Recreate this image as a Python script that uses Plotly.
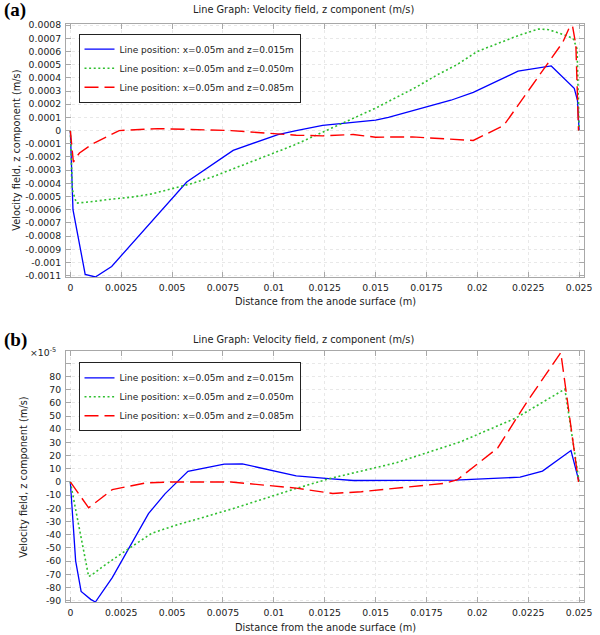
import plotly.graph_objects as go

# ---------------- data ----------------
series_names = [
    "Line position: x=0.05m and z=0.015m",
    "Line position: x=0.05m and z=0.050m",
    "Line position: x=0.05m and z=0.085m",
]

# Panel (a): velocity in m/s
a_blue_x = [0, 0.00013, 0.00073, 0.00123, 0.00203, 0.00572, 0.0080, 0.0102, 0.0111, 0.0124,
            0.0150, 0.01563, 0.0187, 0.0198, 0.0220, 0.02363, 0.02476, 0.02492, 0.0250]
a_blue_y = [0, -0.0006, -0.00109, -0.00111, -0.00103, -0.00039, -0.00015, -0.00003, 0.0, 0.00004,
            0.00008, 0.0001, 0.00023, 0.00029, 0.00045, 0.00049, 0.00032, 0.00023, 0.0]

a_green_x = [0, 0.0001, 0.0003, 0.001, 0.002, 0.003, 0.004, 0.005, 0.006, 0.007, 0.008, 0.009,
             0.010, 0.011, 0.012, 0.013, 0.014, 0.015, 0.016, 0.017, 0.018, 0.019, 0.020, 0.021,
             0.022, 0.023, 0.0235, 0.024, 0.0247, 0.0249, 0.025]
a_green_y = [0, -0.00045, -0.00055, -0.00054, -0.00052, -0.000505, -0.00048, -0.00044, -0.0004,
             -0.00035, -0.00029, -0.00023, -0.00017, -0.00011, -0.00004, 0.00003, 0.0001, 0.00017,
             0.00025, 0.00033, 0.00042, 0.0005, 0.0006, 0.00066, 0.00072, 0.00077, 0.000765,
             0.00074, 0.0007, 0.00062, 0]

a_red_x = [0, 0.00015, 0.0003, 0.00045, 0.0011, 0.0024, 0.0043, 0.0079, 0.0111, 0.0124, 0.0139,
           0.0150, 0.0168, 0.0198, 0.0213, 0.0242, 0.02456, 0.02468, 0.02484, 0.02497]
a_red_y = [0, -0.00024, -0.0002, -0.00017, -0.0001, 0.0, 0.000015, 0.0, -0.000035, -0.00004,
           -0.00003, -0.00005, -0.000048, -0.000075, 0.00004, 0.00067, 0.000795, 0.00079,
           0.00065, 0]

# Panel (b): velocity in units of 1e-5 m/s
b_blue_x = [0, 0.00026, 0.00053, 0.00100, 0.00123, 0.00206, 0.00384, 0.00465, 0.00578, 0.00675,
            0.00756, 0.00845, 0.0111, 0.0127, 0.0139, 0.0189, 0.0221, 0.0232, 0.0246, 0.025]
b_blue_y = [0, -59.8, -83, -89, -91, -72.5, -24, -9, 8, 10.7, 13.5, 13.7, 4.6, 2.6, 1.1, 1.4,
            3.6, 8.2, 23.8, 0]

b_green_x = [0, 0.00045, 0.0009, 0.0011, 0.00158, 0.00271, 0.0040, 0.00514, 0.00675, 0.00788,
             0.0111, 0.0127, 0.0160, 0.0192, 0.0198, 0.0219, 0.0243, 0.0247, 0.025]
b_green_y = [0, -37, -71.7, -70, -64.3, -52.2, -38.9, -33, -25.8, -20.8, -4.9, 2.4, 14.5, 30.6,
             34.6, 48.5, 70.4, 32, 0]

b_red_x = [0, 0.0009, 0.00206, 0.00368, 0.0050, 0.0079, 0.0111, 0.0129, 0.0143, 0.0184, 0.0190,
           0.0198, 0.0210, 0.0224, 0.0241, 0.02497]
b_red_y = [0, -19.6, -5.8, -0.8, 0, 0, -4.7, -8.7, -7.4, -1, 1.5, 11.2, 25.8, 59.8, 98, 0]

x_tick_labels = ["0", "0.0025", "0.005", "0.0075", "0.01", "0.0125", "0.015", "0.0175",
                 "0.02", "0.0225", "0.025"]
a_ytick_labels = ["-0.0011", "-0.001", "-0.0009", "-0.0008", "-0.0007", "-0.0006", "-0.0005",
                  "-0.0004", "-0.0003", "-0.0002", "-0.0001", "0", "0.0001", "0.0002",
                  "0.0003", "0.0004", "0.0005", "0.0006", "0.0007", "0.0008"]
b_ytick_vals = [-90, -80, -70, -60, -50, -40, -30, -20, -10, 0, 10, 20, 30, 40, 50, 60, 70, 80, 90]
b_ytick_labels = ["-90", "-80", "-70", "-60", "-50", "-40", "-30", "-20", "-10", "0", "10",
                  "20", "30", "40", "50", "60", "70", "80", " "]

title_text = "Line Graph: Velocity field, z component (m/s)"
x_title = "Distance from the anode surface (m)"
y_title = "Velocity field, z component (m/s)"

# ---------------- layout helpers ----------------
W, H = 600, 635
ML, MR, MT, MB = 66, 8, 24, 33
PW, PH = W - ML - MR, H - MT - MB


def fx(px):
    return (px - ML) / PW


def fy(py):
    return (H - MB - py) / PH


FONT = "DejaVu Sans"
colors = ["#0000ff", "#2fbf2f", "#ff0000"]
dashes = ["solid", "2px,2.6px", "14px,6px"]
widths = [1.3, 1.6, 1.4]

fig = go.Figure()

a_sets = [(a_blue_x, a_blue_y), (a_green_x, a_green_y), (a_red_x, a_red_y)]
b_sets = [(b_blue_x, b_blue_y), (b_green_x, b_green_y), (b_red_x, b_red_y)]

for i, (xs, ys) in enumerate(a_sets):
    fig.add_trace(go.Scatter(x=xs, y=ys, mode="lines", name=series_names[i],
                             line=dict(color=colors[i], dash=dashes[i], width=widths[i]),
                             xaxis="x", yaxis="y", legend="legend"))
for i, (xs, ys) in enumerate(b_sets):
    fig.add_trace(go.Scatter(x=xs, y=ys, mode="lines", name=series_names[i],
                             line=dict(color=colors[i], dash=dashes[i], width=widths[i]),
                             xaxis="x2", yaxis="y2", legend="legend2"))

x_tick_vals = [float(t) for t in x_tick_labels]
a_ytick_vals = [float(t) for t in a_ytick_labels]

axis_common = dict(
    showline=True, linecolor="#a8a8a8", linewidth=1, mirror="ticks",
    ticks="inside", ticklen=5, tickcolor="#a8a8a8",
    showgrid=True, gridcolor="#e8e8e8", griddash="dot", gridwidth=1,
    zeroline=False, tickfont=dict(family=FONT, size=9.3, color="#222"),
    ticklabelstandoff=2, ticklabeloverflow="allow",
)

xr = [-0.000213, 0.02524]

fig.update_layout(
    width=W, height=H,
    margin=dict(l=ML, r=MR, t=MT, b=MB),
    paper_bgcolor="white", plot_bgcolor="white",
    font=dict(family=FONT, size=10, color="#222"),
    xaxis=dict(domain=[0, 1], anchor="y", range=xr, tickmode="array",
               tickvals=x_tick_vals, ticktext=x_tick_labels, **axis_common),
    yaxis=dict(domain=[fy(277), 1], anchor="x", range=[-0.00111, 0.000808], tickmode="array",
               tickvals=a_ytick_vals, ticktext=a_ytick_labels, **axis_common),
    xaxis2=dict(domain=[0, 1], anchor="y2", range=xr, tickmode="array",
                tickvals=x_tick_vals, ticktext=x_tick_labels, **axis_common),
    yaxis2=dict(domain=[0, fy(350.7)], anchor="x2", range=[-91, 99.5], tickmode="array",
                tickvals=b_ytick_vals, ticktext=b_ytick_labels, **axis_common),
    legend=dict(x=fx(78.7), y=fy(33.7), xanchor="left", yanchor="top",
                bgcolor="white", bordercolor="#222", borderwidth=1,
                font=dict(family=FONT, size=9, color="#222"), tracegroupgap=0),
    legend2=dict(x=fx(78.7), y=fy(362.3), xanchor="left", yanchor="top",
                 bgcolor="white", bordercolor="#222", borderwidth=1,
                 font=dict(family=FONT, size=9, color="#222"), tracegroupgap=0),
    showlegend=True,
)

ann = []
# panel titles
for py in (9.5, 339):
    ann.append(dict(text=title_text, x=fx(307), y=fy(py), xref="paper", yref="paper",
                    xanchor="center", yanchor="middle", showarrow=False,
                    font=dict(family=FONT, size=9.8, color="#222")))
# x titles
for py in (301.7, 627):
    ann.append(dict(text=x_title, x=fx(329), y=fy(py), xref="paper", yref="paper",
                    xanchor="center", yanchor="middle", showarrow=False,
                    font=dict(family=FONT, size=9.8, color="#222")))
# y titles
for px, py in ((15, 150), (22, 477)):
    ann.append(dict(text=y_title, x=fx(px), y=fy(py), xref="paper", yref="paper",
                    xanchor="center", yanchor="middle", showarrow=False, textangle=-90,
                    font=dict(family=FONT, size=9.8, color="#222")))
# panel labels
for lab, py in (("(a)", 10), ("(b)", 340)):
    ann.append(dict(text="<b>" + lab + "</b>", x=fx(1), y=fy(py), xref="paper", yref="paper",
                    xanchor="left", yanchor="middle", showarrow=False,
                    font=dict(family="Liberation Serif", size=19, color="#000")))
# exponent label
ann.append(dict(text="×10<sup>-5</sup>", x=fx(27), y=fy(352), xref="paper", yref="paper",
                xanchor="left", yanchor="middle", showarrow=False,
                font=dict(family=FONT, size=9.3, color="#222")))

fig.update_layout(annotations=ann)

fig.write_html("out.html", config={"displayModeBar": False},
               post_script="document.body.style.margin='0';document.body.style.padding='0';")
